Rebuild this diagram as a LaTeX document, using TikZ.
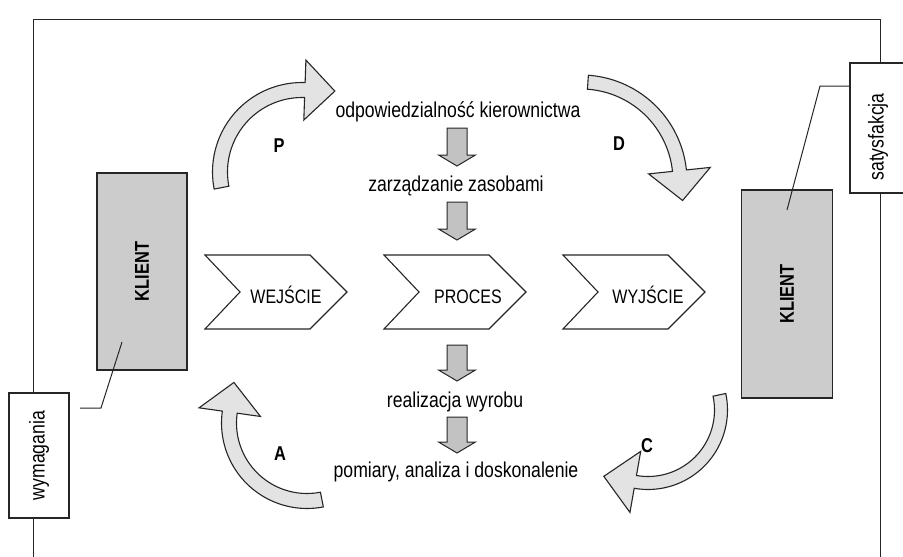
\documentclass[tikz,border=0pt]{standalone}
\usepackage{fontspec}
\setmainfont{Liberation Sans}
\newfontfamily\condfont[FakeStretch=0.82]{Liberation Sans}
\newcommand\pdcaArrow[8]{% cx cy r h a0 a1 H L
  \pgfmathsetmacro\pdRo{#3+#4}%
  \pgfmathsetmacro\pdRi{#3-#4}%
  \pgfmathsetmacro\pdBx{#1+#3*cos(#6)}%
  \pgfmathsetmacro\pdBy{#2-#3*sin(#6)}%
  \pgfmathsetmacro\pdUx{cos(#6)}%
  \pgfmathsetmacro\pdUy{-sin(#6)}%
  \pgfmathsetmacro\pdDx{sin(#6)}%
  \pgfmathsetmacro\pdDy{cos(#6)}%
  \draw[bigarrow] plot[domain=#5:#6, samples=40, variable=\t] ({#1+\pdRo*cos(\t)},{#2-\pdRo*sin(\t)})
     -- ({\pdBx+#7*\pdUx},{\pdBy+#7*\pdUy}) -- ({\pdBx+#8*\pdDx},{\pdBy+#8*\pdDy}) -- ({\pdBx-#7*\pdUx},{\pdBy-#7*\pdUy})
     -- plot[domain=#6:#5, samples=40, variable=\t] ({#1+\pdRi*cos(\t)},{#2-\pdRi*sin(\t)}) -- cycle;
}
\newcommand\smallDownArrow[3]{% x ytop ytip
  \draw[smallarrow] ({#1-10},#2) -- ({#1+10},#2) -- ({#1+10},{#3-11}) -- ({#1+18.5},{#3-11}) -- (#1,#3)
     -- ({#1-18.5},{#3-11}) -- ({#1-10},{#3-11}) -- cycle;
}
\newcommand\chevronShape[2]{% x0 y0
  \draw[chev] (#1,#2) -- ({#1+105},#2) -- ({#1+142},{#2+37}) -- ({#1+105},{#2+74}) -- (#1,{#2+74}) -- ({#1+35},{#2+37}) -- cycle;
}
\begin{document}
\begin{tikzpicture}[x=1pt,y=-1pt,
  line join=miter,
  ln/.style={draw=black!85, line width=1pt},
  bigarrow/.style={draw=black!85, line width=1.1pt, fill=black!11},
  smallarrow/.style={draw=black!85, line width=1pt, fill=black!24},
  chev/.style={draw=black!85, line width=1.1pt, fill=white},
  lab/.style={font=\condfont\fontsize{21.5}{24}\selectfont, inner sep=0pt, anchor=base},
  caps/.style={font=\condfont\fontsize{19.5}{22}\selectfont, inner sep=0pt, anchor=base},
  letter/.style={font=\condfont\fontsize{20}{22}\selectfont\bfseries, inner sep=0pt, anchor=base},
  klient/.style={draw=black!85, line width=1.2pt, fill=black!20, rotate=90, font=\condfont\fontsize{20}{22}\selectfont\bfseries, inner sep=0pt},
  sidebox/.style={draw=black!85, line width=1.1pt, fill=white, rotate=90, font=\condfont\fontsize{21.5}{24}\selectfont, inner sep=0pt},
]
\useasboundingbox (0,0) rectangle (903,557);
\fill[white] (0,0) rectangle (903,557);

% frame
\draw[ln] (33,557) -- (33,19) -- (880,19) -- (880,557);

% side boxes
\node[sidebox, minimum width=125pt, minimum height=60pt] (wym) at (39,455.5) {wymagania};
\draw[ln, line width=1.1pt, fill=white] (850,63) rectangle (912,193);
\node[rotate=90, font=\condfont\fontsize{21.5}{24}\selectfont, inner sep=0pt] (sat) at (878,137) {satysfakcja};

% KLIENT boxes
\node[klient, minimum width=197pt, minimum height=90pt] (k1) at (142,271.5) {KLIENT};
\node[klient, minimum width=208pt, minimum height=91pt] (k2) at (787,294) {KLIENT};

% leader lines
\coordinate (wl1) at (80,408);
\coordinate (wl2) at (101,408);
\coordinate (wl3) at (122,342);
\draw[ln] (wl1) -- (wl2) -- (wl3);
\coordinate (sl1) at (787,210);
\coordinate (sl2) at (820,86);
\coordinate (sl3) at (850,86);
\draw[ln] (sl1) -- (sl2) -- (sl3);

% big PDCA arrows
\pdcaArrow{302}{172}{82}{7.5}{191}{88}{30}{30}
\pdcaArrow{581}{181}{99}{7}{86}{6}{31}{30}
\pdcaArrow{648}{410}{73}{6.5}{12}{-100}{31}{32}
\pdcaArrow{307}{423}{78}{7.5}{281}{172}{31}{30}

\node[letter] (P) at (279,152) {P};
\node[letter] (D) at (619,150) {D};
\node[letter] (C) at (647,452) {C};
\node[letter] (A) at (280,460) {A};

% chevrons
\chevronShape{205}{255}
\chevronShape{384}{255}
\chevronShape{563}{255}
\node[caps] (we) at (286,303) {WEJŚCIE};
\node[caps] (pr) at (468,303) {PROCES};
\node[caps] (wy) at (648,303) {WYJŚCIE};

% centre column
\node[lab] (odp) at (458,117) {odpowiedzialność kierownictwa};
\node[lab] (zas) at (456,191) {zarządzanie zasobami};
\node[lab] (rea) at (455,407) {realizacja wyrobu};
\node[lab] (pom) at (456,477) {pomiary, analiza i doskonalenie};
\smallDownArrow{457}{128}{166}
\smallDownArrow{457}{202}{240}
\smallDownArrow{457}{345}{381}
\smallDownArrow{457}{417}{453}
\end{tikzpicture}
\end{document}
